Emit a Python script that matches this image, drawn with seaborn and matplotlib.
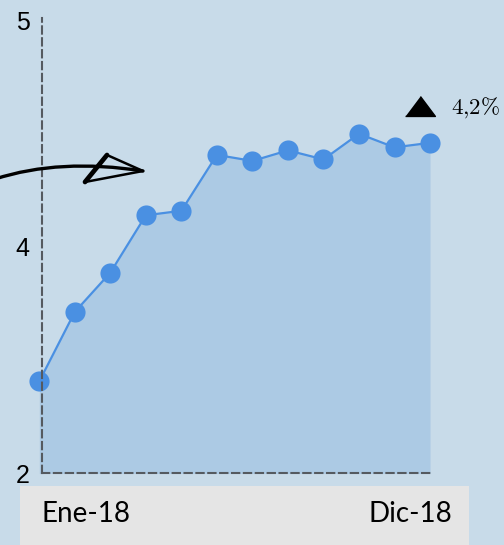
import matplotlib
matplotlib.use("Agg")
import pandas as pd
import matplotlib.pyplot as plt
import seaborn as sns
from matplotlib.path import Path
from matplotlib.patches import PathPatch, Polygon

# datos
meses = ['Ene-18', 'Feb-18', 'Mar-18', 'Abr-18', 'May-18', 'Jun-18',
         'Jul-18', 'Ago-18', 'Sep-18', 'Oct-18', 'Nov-18', 'Dic-18']
valores = [2.61, 3.07, 3.33, 3.71, 3.74, 4.11, 4.07, 4.14, 4.08, 4.25, 4.16, 4.19]
y_ticks = [2, 3.5, 5]
y_labels = ['2', '4', '5']
x_labels = [meses[0], meses[-1]]
variacion = r'$4{,}2\%$'

BG = '#c8dbe9'
FILL = '#accae4'
LINE = '#4a90e2'
DASH = '#555a60'

W, H = 504, 545


def fig_px(x, y):
    # pixel position (from top-left) -> figure fraction
    return (x / W, 1 - y / H)


sns.set_style('white')
plt.rcParams['mathtext.fontset'] = 'cm'

df = pd.DataFrame({'idx': range(len(meses)), 'mes': meses, 'valor': valores})

fig = plt.figure(figsize=(W / 100, H / 100), dpi=100, facecolor=BG)
ax = fig.add_axes([20 / W, 1 - 489 / H, 442 / W, 484 / H])
ax.set_facecolor(BG)

ax.fill_between(df['idx'], df['valor'], 2, color=FILL, lw=0, zorder=1)
sns.lineplot(data=df, x='idx', y='valor', ax=ax, color=LINE, lw=1.6,
             marker='o', markersize=14.5, markeredgewidth=0, zorder=2)

ax.set_xlim(-0.543, 11.9)
ax.set_ylim(1.897, 5.103)

# dashed axes
x_axis = 0.076
for side in ['top', 'right']:
    ax.spines[side].set_visible(False)
ax.spines['left'].set_position(('data', x_axis))
ax.spines['left'].set_bounds(2, 5.02)
ax.spines['bottom'].set_position(('data', 2))
ax.spines['bottom'].set_bounds(x_axis, len(meses) - 1)
for side in ['left', 'bottom']:
    ax.spines[side].set_linestyle((0, (3.5, 2.2)))
    ax.spines[side].set_linewidth(1.5)
    ax.spines[side].set_color(DASH)
    ax.spines[side].set_zorder(3)

ax.set_yticks(y_ticks)
ax.set_yticklabels(y_labels, fontsize=18, family='Liberation Sans', color='black')
ax.tick_params(axis='y', length=0, pad=9)
ax.set_xticks([])
ax.set_xlabel('')
ax.set_ylabel('')

# annotation on last value
n = len(valores) - 1
ax.plot(n - 0.27, valores[-1] + 0.243, marker=[(-1.5, -1), (1.5, -1), (0, 1)],
        ms=21.5, color='black', clip_on=False, zorder=4)
ax.text(n + 0.6, valores[-1] + 0.195, variacion, fontsize=16.5,
        ha='left', va='baseline', color='black', clip_on=False)

# hand drawn arrow
curve = Path([fig_px(-5, 179), fig_px(60, 158), fig_px(143, 171)],
             [Path.MOVETO, Path.CURVE3, Path.CURVE3])
fig.patches.append(PathPatch(curve, transform=fig.transFigure, fill=False,
                             lw=2.4, color='black', capstyle='round'))
head = Polygon([fig_px(143, 171), fig_px(107, 155), fig_px(85, 182)],
               closed=True, transform=fig.transFigure, fill=False,
               lw=1.8, edgecolor='black', joinstyle='miter')
fig.patches.append(head)
fig.lines.append(plt.Line2D([107 / W, 85 / W], [1 - 155 / H, 1 - 182 / H],
                            transform=fig.transFigure, lw=3.4, color='black'))

# grey label band
band = fig.add_axes([20 / W, 0, 449 / W, 59 / H])
band.set_facecolor('#e5e5e5')
band.set_xticks([])
band.set_yticks([])
for s in band.spines.values():
    s.set_visible(False)

fig.text(*fig_px(42, 514), x_labels[0], fontsize=20, family='Lato',
         ha='left', va='center', color='black')
fig.text(*fig_px(452, 514), x_labels[1], fontsize=20, family='Lato',
         ha='right', va='center', color='black')

fig.savefig('out.png', dpi=100, facecolor=BG)
